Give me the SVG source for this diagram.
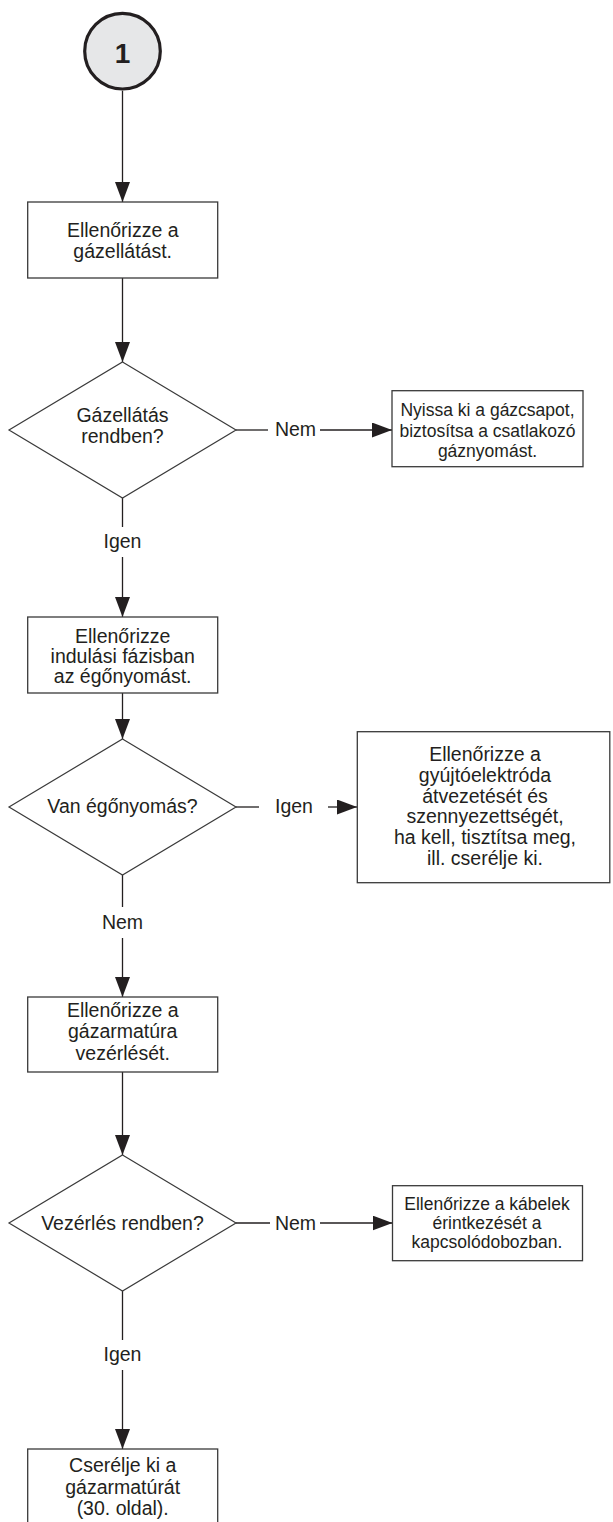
<svg xmlns="http://www.w3.org/2000/svg" width="613" height="1522" viewBox="0 0 613 1522">
<defs>
<marker id="arr" markerUnits="userSpaceOnUse" markerWidth="20" markerHeight="15" refX="20" refY="7.5" orient="auto">
<path d="M0,0 L20,7.5 L0,15 z" fill="#231f20"/>
</marker>
<style>
.box{fill:#fff;stroke:#3a3a3a;stroke-width:1.3}
.dia{fill:#fff;stroke:#3a3a3a;stroke-width:1.2}
.t{font-family:"Liberation Sans",Arial,sans-serif;font-size:19.5px;fill:#231f20;text-anchor:middle}
.s{font-family:"Liberation Sans",Arial,sans-serif;font-size:17.5px;fill:#231f20;text-anchor:middle}
.ln{fill:none;stroke:#231f20;stroke-width:1.3}
.ar{fill:none;stroke:#231f20;stroke-width:1.3;marker-end:url(#arr)}
</style>
</defs>
<rect width="613" height="1522" fill="#fff"/>
<g id="connectors">
<path class="ar" d="M122.5,90.7 V202"/>
<path class="ar" d="M122.5,278 V362"/>
<path class="ln" d="M236,430 H268"/>
<path class="ar" d="M320,430 H392"/>
<path class="ln" d="M122.5,498 V527"/>
<path class="ar" d="M122.5,557 V617"/>
<path class="ar" d="M122.5,693 V739"/>
<path class="ln" d="M236,807 H259"/>
<path class="ar" d="M328,807 H357"/>
<path class="ln" d="M122.5,875 V907"/>
<path class="ar" d="M122.5,938 V997"/>
<path class="ar" d="M122.5,1072 V1155"/>
<path class="ln" d="M236,1223 H270"/>
<path class="ar" d="M320,1223 H392.5"/>
<path class="ln" d="M122.5,1291 V1340"/>
<path class="ar" d="M122.5,1370 V1449"/>
</g>
<g id="labels">
<text class="t" x="295.5" y="436">Nem</text>
<text class="t" x="294" y="813">Igen</text>
<text class="t" x="295.5" y="1230">Nem</text>
<text class="t" x="122.5" y="548">Igen</text>
<text class="t" x="122.5" y="929">Nem</text>
<text class="t" x="122.5" y="1361">Igen</text>
</g>
<g id="start">
<circle cx="122.5" cy="51.2" r="37.8" fill="#e6e7e8" stroke="#231f20" stroke-width="3.2"/>
<text x="122.5" y="63.3" font-family="Liberation Sans,Arial,sans-serif" font-size="28" font-weight="bold" fill="#231f20" text-anchor="middle">1</text>
</g>
<g id="box1">
<rect class="box" x="27.7" y="202" width="190" height="76"/>
<text class="t" x="122.7" y="236.7">Ellenőrizze a</text>
<text class="t" x="122.7" y="258">gázellátást.</text>
</g>
<g id="dec1">
<polygon class="dia" points="122.5,362 236,430 122.5,498 9,430"/>
<text class="t" x="122.5" y="421.7">Gázellátás</text>
<text class="t" x="122.5" y="443">rendben?</text>
</g>
<g id="side1">
<rect class="box" x="392" y="390.7" width="191" height="76"/>
<text class="s" x="487.5" y="415.7">Nyissa ki a gázcsapot,</text>
<text class="s" x="487.5" y="436.7">biztosítsa a csatlakozó</text>
<text class="s" x="487.5" y="456.7">gáznyomást.</text>
</g>
<g id="box2">
<rect class="box" x="27.7" y="617" width="190" height="76"/>
<text class="t" x="122.7" y="643">Ellenőrizze</text>
<text class="t" x="122.7" y="663">indulási fázisban</text>
<text class="t" x="122.7" y="683">az égőnyomást.</text>
</g>
<g id="dec2">
<polygon class="dia" points="122.5,739 236,807 122.5,875 9,807"/>
<text class="t" x="122.5" y="812.7">Van égőnyomás?</text>
</g>
<g id="side2">
<rect class="box" x="357.3" y="731.7" width="252.5" height="151"/>
<text class="t" x="485" y="761">Ellenőrizze a</text>
<text class="t" x="485" y="781.7">gyújtóelektróda</text>
<text class="t" x="485" y="802.7">átvezetését és</text>
<text class="t" x="485" y="823.3">szennyezettségét,</text>
<text class="t" x="485" y="844.3">ha kell, tisztítsa meg,</text>
<text class="t" x="485" y="865">ill. cserélje ki.</text>
</g>
<g id="box3">
<rect class="box" x="27.7" y="997" width="190" height="75"/>
<text class="t" x="122.7" y="1017.3">Ellenőrizze a</text>
<text class="t" x="122.7" y="1038.3">gázarmatúra</text>
<text class="t" x="122.7" y="1060">vezérlését.</text>
</g>
<g id="dec3">
<polygon class="dia" points="122.5,1155 236,1223 122.5,1291 9,1223"/>
<text class="t" x="122.5" y="1230">Vezérlés rendben?</text>
</g>
<g id="side3">
<rect class="box" x="392.5" y="1185.7" width="190" height="75"/>
<text class="s" x="487" y="1210">Ellenőrizze a kábelek</text>
<text class="s" x="487" y="1229.3">érintkezését a</text>
<text class="s" x="487" y="1248.3">kapcsolódobozban.</text>
</g>
<g id="box4">
<rect class="box" x="27.7" y="1449" width="190" height="90"/>
<text class="t" x="122.7" y="1472">Cserélje ki a</text>
<text class="t" x="122.7" y="1494">gázarmatúrát</text>
<text class="t" x="122.7" y="1515">(30. oldal).</text>
</g>
</svg>
